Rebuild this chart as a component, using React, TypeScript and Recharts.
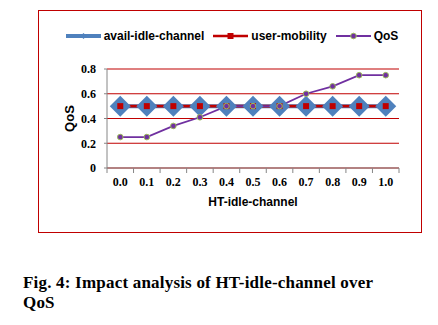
import React from 'react'
import {
  LineChart,
  Line,
  XAxis,
  YAxis,
  CartesianGrid,
  Legend,
} from 'recharts'

const categories = ['0.0', '0.1', '0.2', '0.3', '0.4', '0.5', '0.6', '0.7', '0.8', '0.9', '1.0']
const availIdleChannel = [0.5, 0.5, 0.5, 0.5, 0.5, 0.5, 0.5, 0.5, 0.5, 0.5, 0.5]
const userMobility = [0.5, 0.5, 0.5, 0.5, 0.5, 0.5, 0.5, 0.5, 0.5, 0.5, 0.5]
const qos = [0.25, 0.25, 0.34, 0.41, 0.5, 0.5, 0.5, 0.6, 0.66, 0.75, 0.75]
const yTicks = [0, 0.2, 0.4, 0.6, 0.8]

const data = categories.map((c, i) => ({
  x: c,
  avail: availIdleChannel[i],
  user: userMobility[i],
  qos: qos[i],
}))

const BLUE = '#4F81BD'
const RED = '#C00000'
const PURPLE = '#7030A0'
const GREEN = '#9BBB59'
const GRAY = '#868686'
const SERIF = '"Liberation Serif", "Times New Roman", serif'
const SANS = '"Liberation Sans", Arial, sans-serif'

const CHART_W = 382
const MARGIN = { top: 10, right: 22, bottom: 14, left: 0 }
const Y_W = 68
// half of one category band, so the points sit in the middle of each band
const HALF_BAND = (CHART_W - MARGIN.left - MARGIN.right - Y_W) / categories.length / 2

const Diamond = (props: any) => {
  const { cx, cy } = props
  if (cx == null || cy == null) return null
  const s = 10.5
  return <polygon points={`${cx},${cy - s} ${cx + s},${cy} ${cx},${cy + s} ${cx - s},${cy}`} fill={BLUE} />
}

const Square = (props: any) => {
  const { cx, cy } = props
  if (cx == null || cy == null) return null
  return <rect x={cx - 3} y={cy - 3} width={6} height={6} fill={RED} />
}

const Dot = (props: any) => {
  const { cx, cy } = props
  if (cx == null || cy == null) return null
  return <circle cx={cx} cy={cy} r={2.8} fill={PURPLE} stroke={GREEN} strokeWidth={1} />
}

const XTick = (props: any) => {
  const { x, y, payload, index } = props
  const half = HALF_BAND
  const axisY = y - 5
  return (
    <g>
      <line x1={x - half} x2={x - half} y1={axisY} y2={axisY + 5} stroke={GRAY} />
      {index === categories.length - 1 && (
        <line x1={x + half} x2={x + half} y1={axisY} y2={axisY + 5} stroke={GRAY} />
      )}
      <text x={x} y={axisY + 14} dy="0.35em" textAnchor="middle" fontFamily={SERIF} fontWeight="bold" fontSize={12} fill="#000">
        {payload.value}
      </text>
    </g>
  )
}

const legendItems = [
  { label: 'avail-idle-channel', kind: 'diamond' },
  { label: 'user-mobility', kind: 'square' },
  { label: 'QoS', kind: 'circle' },
]

const LegendIcon = ({ kind }: { kind: string }) => (
  <svg width={35} height={12} style={{ display: 'block' }}>
    {kind === 'diamond' && (
      <>
        <line x1={0} x2={35} y1={6} y2={6} stroke={BLUE} strokeWidth={4} />
        <polygon points="17.5,3 20.5,6 17.5,9 14.5,6" fill={BLUE} />
      </>
    )}
    {kind === 'square' && (
      <>
        <line x1={0} x2={35} y1={6} y2={6} stroke={RED} strokeWidth={2.5} />
        <rect x={14.5} y={3} width={6} height={6} fill={RED} />
      </>
    )}
    {kind === 'circle' && (
      <>
        <line x1={0} x2={35} y1={6} y2={6} stroke={PURPLE} strokeWidth={2} />
        <circle cx={17.5} cy={6} r={2.8} fill={PURPLE} stroke={GREEN} strokeWidth={1} />
      </>
    )}
  </svg>
)

const LegendContent = () => (
  <div
    style={{
      width: CHART_W,
      height: 48,
      paddingTop: 7,
      paddingLeft: 4,
      boxSizing: 'border-box',
      display: 'flex',
      justifyContent: 'center',
    }}
  >
    {legendItems.map((it) => (
      <div key={it.label} style={{ display: 'flex', alignItems: 'center', height: 16, margin: '0 4.5px' }}>
        <LegendIcon kind={it.kind} />
        <span style={{ fontFamily: SANS, fontWeight: 'bold', fontSize: 12, marginLeft: 3, color: '#000' }}>{it.label}</span>
      </div>
    ))}
  </div>
)

export default function App() {
  return (
    <div style={{ position: 'absolute', left: 0, top: 0, width: 438, height: 325, background: '#fff' }}>
      <div
        style={{
          position: 'absolute',
          left: 38,
          top: 10,
          width: 384,
          height: 223,
          border: `1px solid ${RED}`,
          boxSizing: 'border-box',
        }}
      >
        <LineChart width={CHART_W} height={221} data={data} margin={MARGIN}>
          <Legend
            verticalAlign="top"
            align="center"
            height={48}
            wrapperStyle={{ left: 0, width: CHART_W }}
            content={<LegendContent />}
          />
          <CartesianGrid vertical={false} stroke={RED} strokeWidth={1.2} />
          <XAxis
            dataKey="x"
            height={50}
            padding={{ left: HALF_BAND, right: HALF_BAND }}
            axisLine={{ stroke: GRAY }}
            tickLine={false}
            tickSize={5}
            tickMargin={0}
            interval={0}
            tick={<XTick />}
            label={(p: any) => {
              const vb = p.viewBox
              return (
                <text x={vb.x + vb.width / 2} y={vb.y + 34} dy="0.35em" textAnchor="middle" fontFamily={SANS} fontWeight="bold" fontSize={12} fill="#000">
                  HT-idle-channel
                </text>
              )
            }}
          />
          <YAxis
            width={Y_W}
            domain={[0, 0.8]}
            ticks={yTicks}
            axisLine={{ stroke: GRAY }}
            tickLine={{ stroke: GRAY }}
            tickSize={3}
            tickMargin={8}
            tickFormatter={(v: number) => (v === 0 ? '0' : v.toFixed(1))}
            tick={{ fontFamily: SERIF, fontWeight: 'bold', fontSize: 12, fill: '#000' }}
            label={(p: any) => {
              const vb = p.viewBox
              const cx = vb.x + 30
              const cy = vb.y + vb.height / 2
              return (
                <text x={cx} y={cy} dy="0.35em" textAnchor="middle" transform={`rotate(-90 ${cx} ${cy})`} fontFamily={SANS} fontWeight="bold" fontSize={13} fill="#000">
                  QoS
                </text>
              )
            }}
          />
          <Line dataKey="avail" stroke={BLUE} strokeWidth={4} dot={<Diamond />} activeDot={false} isAnimationActive={false} />
          <Line dataKey="user" stroke={RED} strokeWidth={2.7} dot={<Square />} activeDot={false} isAnimationActive={false} />
          <Line dataKey="qos" stroke={PURPLE} strokeWidth={1.8} dot={<Dot />} activeDot={false} isAnimationActive={false} />
        </LineChart>
      </div>
      <div
        style={{
          position: 'absolute',
          left: 23,
          top: 273,
          fontFamily: SERIF,
          fontWeight: 'bold',
          fontSize: 17,
          letterSpacing: 0.2,
          lineHeight: '19.5px',
          color: '#000',
          whiteSpace: 'nowrap',
        }}
      >
        Fig. 4: Impact analysis of HT-idle-channel over
        <br />
        QoS
      </div>
    </div>
  )
}
